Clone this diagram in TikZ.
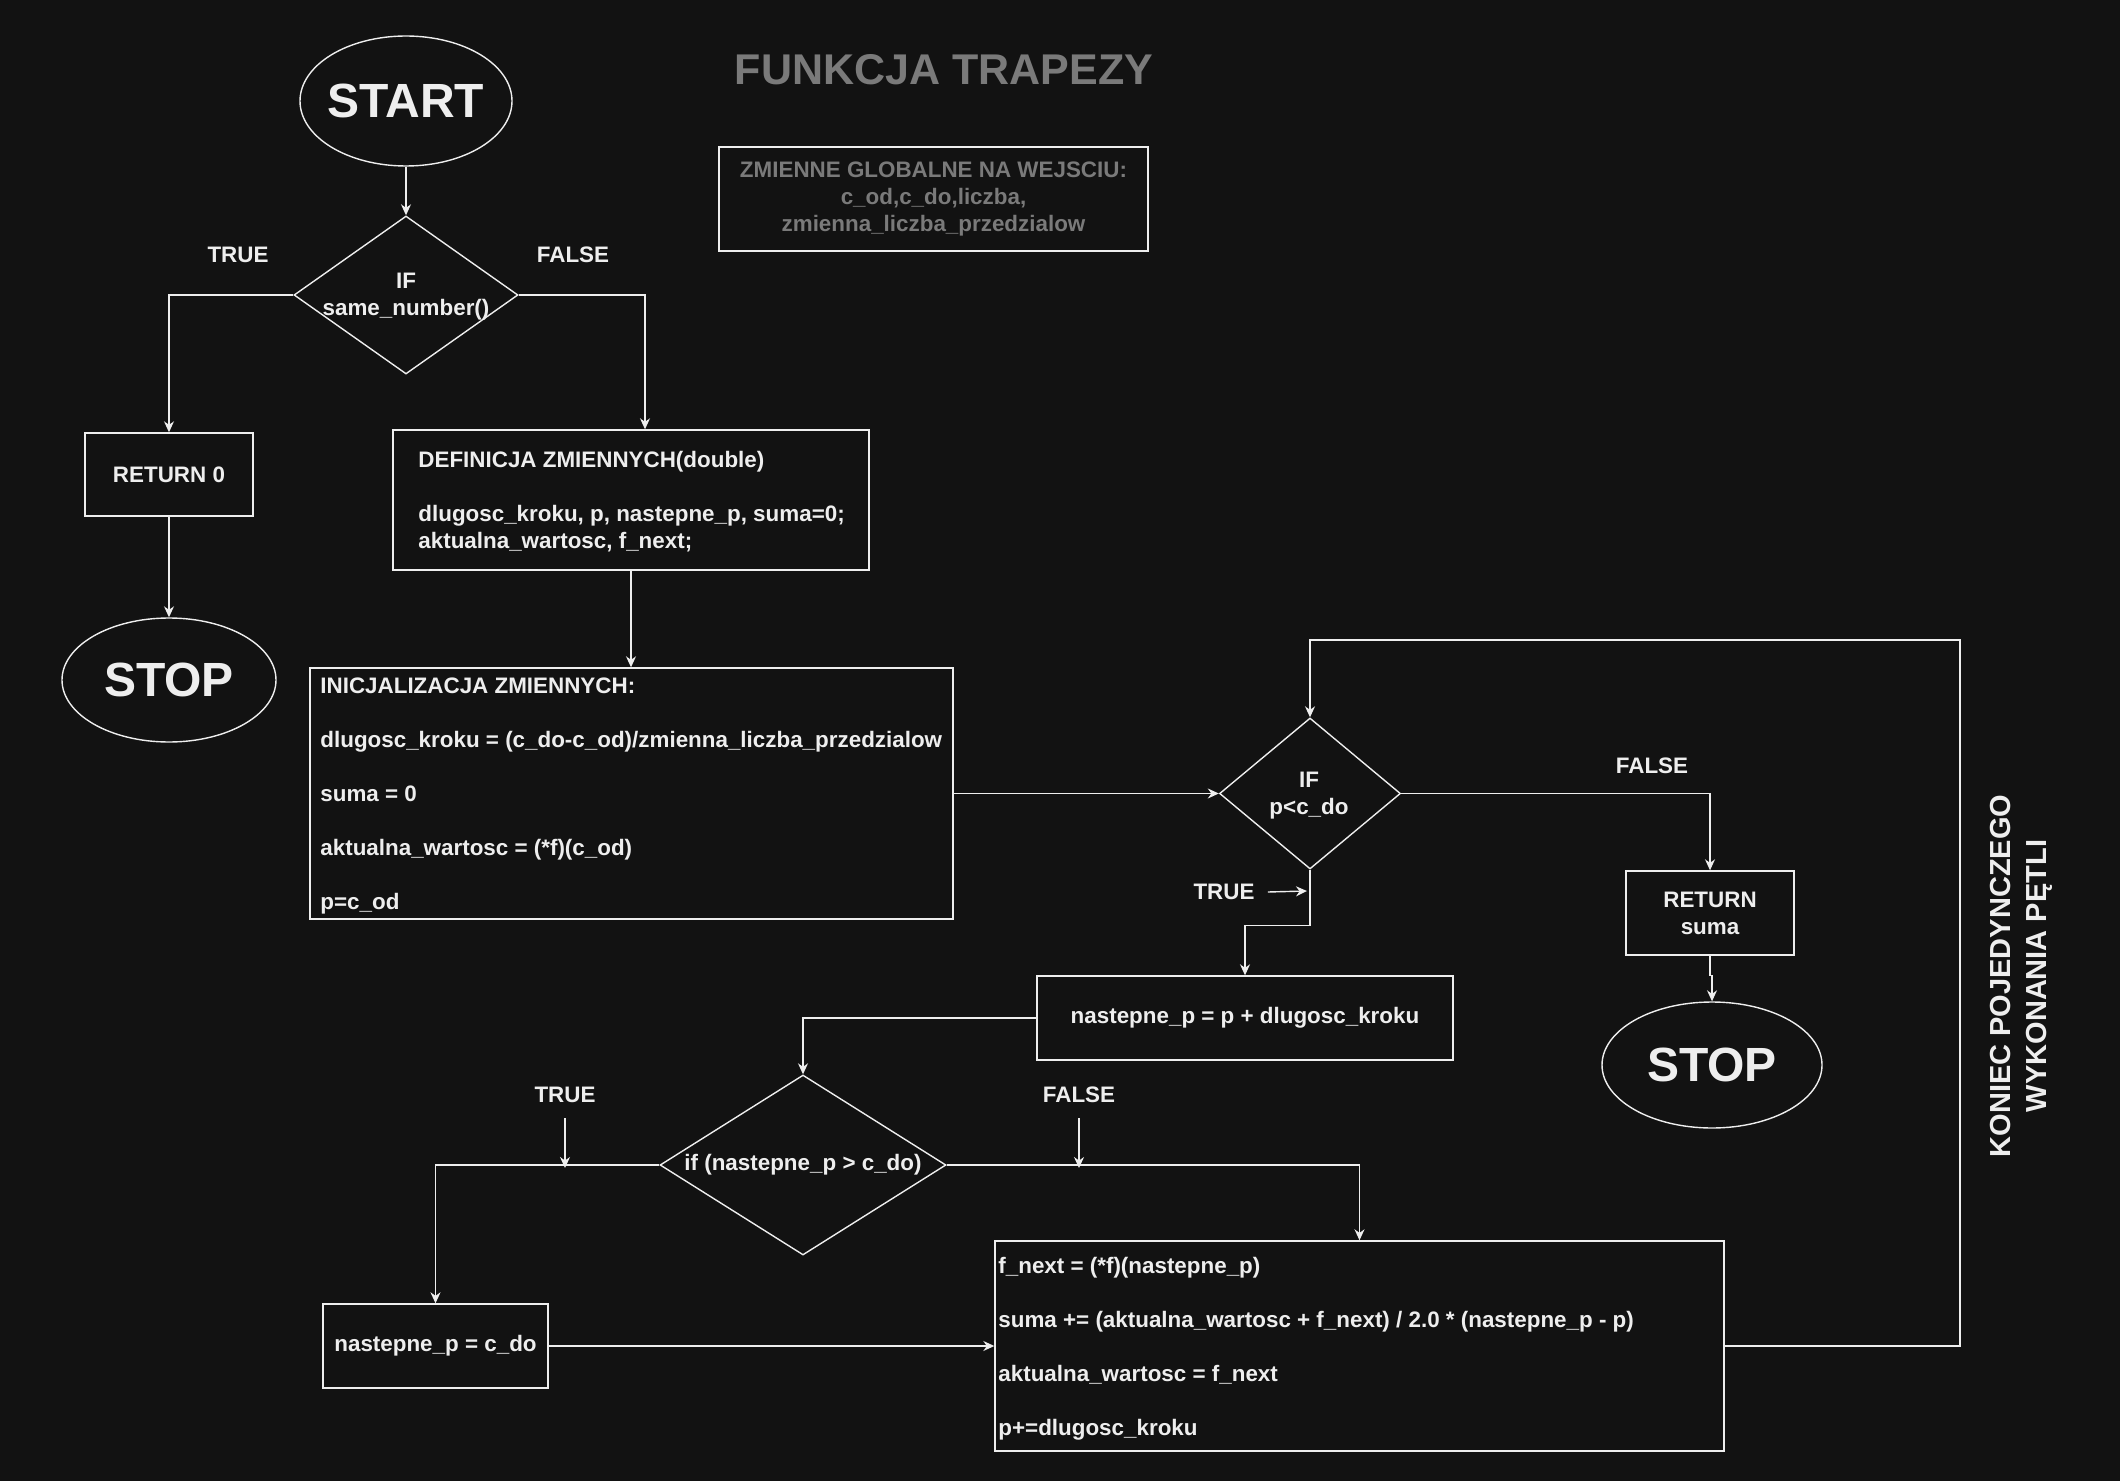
\documentclass[tikz,border=0pt]{standalone}
\usepackage{fontspec}
\setmainfont{Liberation Sans}
\usetikzlibrary{shapes.geometric,arrows.meta,calc}
\definecolor{bg}{HTML}{121212}
\definecolor{fg}{HTML}{EEEEEE}
\definecolor{ttl}{HTML}{7A7A7A}
\begin{document}
\begin{tikzpicture}[x=0.5pt,y=-0.5pt,
  every node/.style={font=\bfseries\fontsize{11.2pt}{13.5pt}\selectfont, text=fg},
  ln/.style={draw=fg, line width=0.7pt},
  arr/.style={ln, -{Stealth[length=5.5pt,width=5pt]}},
  box/.style={draw=fg, line width=0.7pt, rectangle, inner sep=0pt},
  oval/.style={draw=fg, line width=0.7pt, ellipse, inner sep=0pt},
  bigtxt/.style={inner sep=0pt, font=\bfseries\fontsize{24pt}{28pt}\selectfont},
  dia/.style={draw=fg, line width=0.7pt, diamond, inner sep=0pt},
  lbl/.style={inner sep=0pt},
]
\fill[bg] (0,0) rectangle (2120,1481);
\useasboundingbox (0,0) rectangle (2120,1481);

% title and globals
\node[text=ttl, font=\bfseries\fontsize{21.5pt}{25pt}\selectfont] (title) at (944,70) {FUNKCJA TRAPEZY};
\node[box, minimum width=214.5pt, minimum height=52pt, text=ttl, align=center] (glob) at (933.5,199) {ZMIENNE GLOBALNE NA WEJSCIU:\\c\_od,c\_do,liczba,\\zmienna\_liczba\_przedzialow};

% start and first decision
\node[oval, minimum width=106pt, minimum height=65pt] (start) at (406,101) {};
\node[bigtxt] (startt) at (406,101) {START};
\node[dia, minimum width=112pt, minimum height=79pt] (d1) at (406,295) {};
\node[lbl, align=center] (d1t) at (406,297) {IF\\same\_number()};
\node[lbl] (t1) at (238,255) {TRUE};
\node[lbl] (f1) at (573,255) {FALSE};

\node[box, minimum width=84pt, minimum height=41.5pt] (ret0) at (169,474.5) {RETURN 0};
\node[oval, minimum width=107pt, minimum height=62pt] (stop1) at (169,680) {};
\node[bigtxt] (stop1t) at (169,680) {STOP};

\node[box, minimum width=238pt, minimum height=70pt] (def) at (631,500) {};
\node[lbl, anchor=west, align=left] (deft) at (418,502) {DEFINICJA ZMIENNYCH(double)\\[13.5pt]dlugosc\_kroku, p, nastepne\_p, suma=0;\\aktualna\_wartosc, f\_next;};

\node[box, minimum width=321.5pt, minimum height=125.5pt] (ini) at (631.5,793.5) {};
\node[lbl, anchor=west, align=left] (init) at (320,796) {INICJALIZACJA ZMIENNYCH:\\[13.5pt]dlugosc\_kroku = (c\_do-c\_od)/zmienna\_liczba\_przedzialow\\[13.5pt]suma = 0\\[13.5pt]aktualna\_wartosc = (*f)(c\_od)\\[13.5pt]p=c\_od};

% loop decision
\node[dia, minimum width=90.5pt, minimum height=75.5pt] (d2) at (1310,793.5) {};
\node[lbl, align=center] (d2t) at (1309,796) {IF\\p<c\_do};
\node[lbl] (f2) at (1652,766) {FALSE};
\node[box, minimum width=84pt, minimum height=42pt, align=center] (rs) at (1710,913) {RETURN\\suma};
\node[oval, minimum width=110pt, minimum height=63pt] (stop2) at (1712,1065) {};
\node[bigtxt] (stop2t) at (1712,1065) {STOP};
\node[lbl] (t2) at (1224,892) {TRUE};
\coordinate (t2a) at (1307,891);

\node[box, minimum width=208pt, minimum height=42pt] (nasp) at (1245,1018) {nastepne\_p = p + dlugosc\_kroku};

% inner decision
\node[dia, minimum width=143pt, minimum height=90pt] (d3) at (803,1165) {};
\node[lbl] (d3t) at (803,1165) {if (nastepne\_p > c\_do)};
\node[lbl] (t3) at (565,1095) {TRUE};
\node[lbl] (f3) at (1079,1095) {FALSE};
\coordinate (t3a) at (565,1168);
\coordinate (f3a) at (1079,1168);

\node[box, minimum width=112.5pt, minimum height=42pt] (cdo) at (435.5,1346) {nastepne\_p = c\_do};
\node[box, minimum width=364.5pt, minimum height=105pt] (big) at (1359.5,1346) {};
\node[lbl, anchor=west, align=left] (bigt) at (998,1349) {f\_next = (*f)(nastepne\_p)\\[13.5pt]suma += (aktualna\_wartosc + f\_next) / 2.0 * (nastepne\_p - p)\\[13.5pt]aktualna\_wartosc = f\_next\\[13.5pt]p+=dlugosc\_kroku};

\node[rotate=90, align=center, font=\bfseries\fontsize{14.5pt}{18pt}\selectfont] (koniec) at (2021,976) {KONIEC POJEDYNCZEGO\\WYKONANIA PĘTLI};
\coordinate (loopc) at (1960,640);

% connectors
\draw[arr] (start.south) -- (d1.north);
\draw[arr] (d1.west) -| (ret0.north);
\draw[arr] (d1.east) -| ([xshift=7pt]def.north);
\draw[arr] (ret0.south) -- (stop1.north);
\draw[arr] (def.south) -- (def.south |- ini.north);
\draw[arr] (ini.east) -- (d2.west);
\draw[arr] (d2.east) -| (rs.north);
\draw[arr] (rs.south) -- ++(0,20) -| (stop2.north);
\draw[arr] ([xshift=6.5pt]t2.east) -- (t2a);
\draw[arr] (d2.south) -- ++(0,56) -| (nasp.north);
\draw[arr] (nasp.west) -| (d3.north);
\draw[arr] ([yshift=-7.5pt]t3.south) -- (t3a);
\draw[arr] ([yshift=-7.5pt]f3.south) -- (f3a);
\draw[arr] (d3.west) -| (cdo.north);
\draw[arr] (d3.east) -| (big.north);
\draw[arr] (cdo.east) -- (big.west);
\draw[arr] (big.east) -| (loopc) -| (d2.north);
\end{tikzpicture}
\end{document}
